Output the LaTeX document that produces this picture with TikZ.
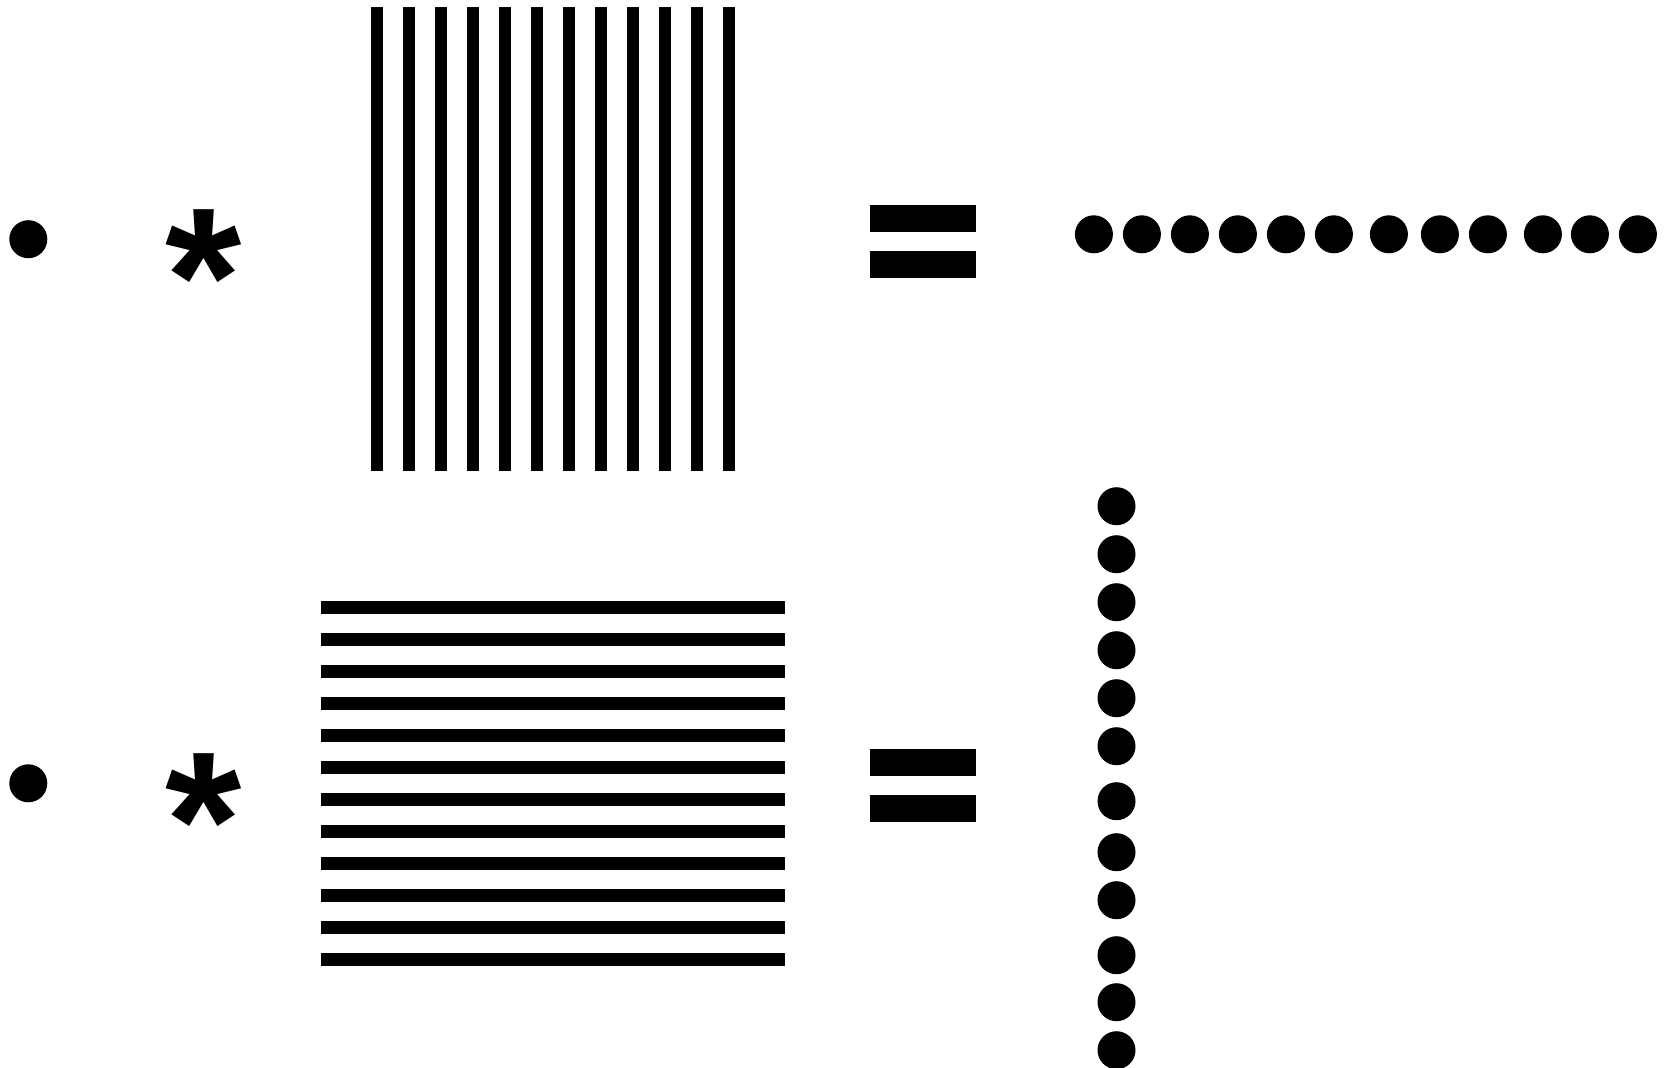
\documentclass[tikz,border=0pt]{standalone}
\usepackage{fontspec}
\newfontfamily\astfont{Liberation Sans}
\begin{document}
\begin{tikzpicture}[x=1pt,y=-1pt]
\tikzset{
  ink/.style={fill=black,draw=none},
  ast/.style={inner sep=0pt,anchor=base,font=\astfont\bfseries\fontsize{196}{196}\selectfont}
}
\useasboundingbox (0,0) rectangle (1671,1068);
% ---------- upper row ----------
\fill[ink] (28.3,239.2) circle (19);
\node[ast] (astA) at (203.5,344.2) {*};
\foreach \i in {0,...,11}{
  \fill[ink] ({371.3+32*\i},7.3) rectangle ++(12,464);
}
\fill[ink] (869.7,205.3) rectangle (976.3,232.3);
\fill[ink] (869.7,251.3) rectangle (976.3,278.3);
\foreach \o in {0,48,96,144,192,240,295,346,394,449,496,544}{
  \fill[ink] ({1093.9+\o},234.3) circle (19);
}
% ---------- lower row ----------
\fill[ink] (28.3,783.3) circle (19);
\node[ast] (astB) at (203.5,888.3) {*};
\foreach \j in {0,...,11}{
  \fill[ink] (321.3,{601.3+32*\j}) rectangle (785.3,{613.7+32*\j});
}
\fill[ink] (869.7,749.3) rectangle (976.3,776.3);
\fill[ink] (869.7,795.3) rectangle (976.3,822.3);
\foreach \o in {0,48,96,144,192,240,295,346,394,449,496,544}{
  \fill[ink] (1116.5,{506.2+\o}) circle (19);
}
\end{tikzpicture}
\end{document}
